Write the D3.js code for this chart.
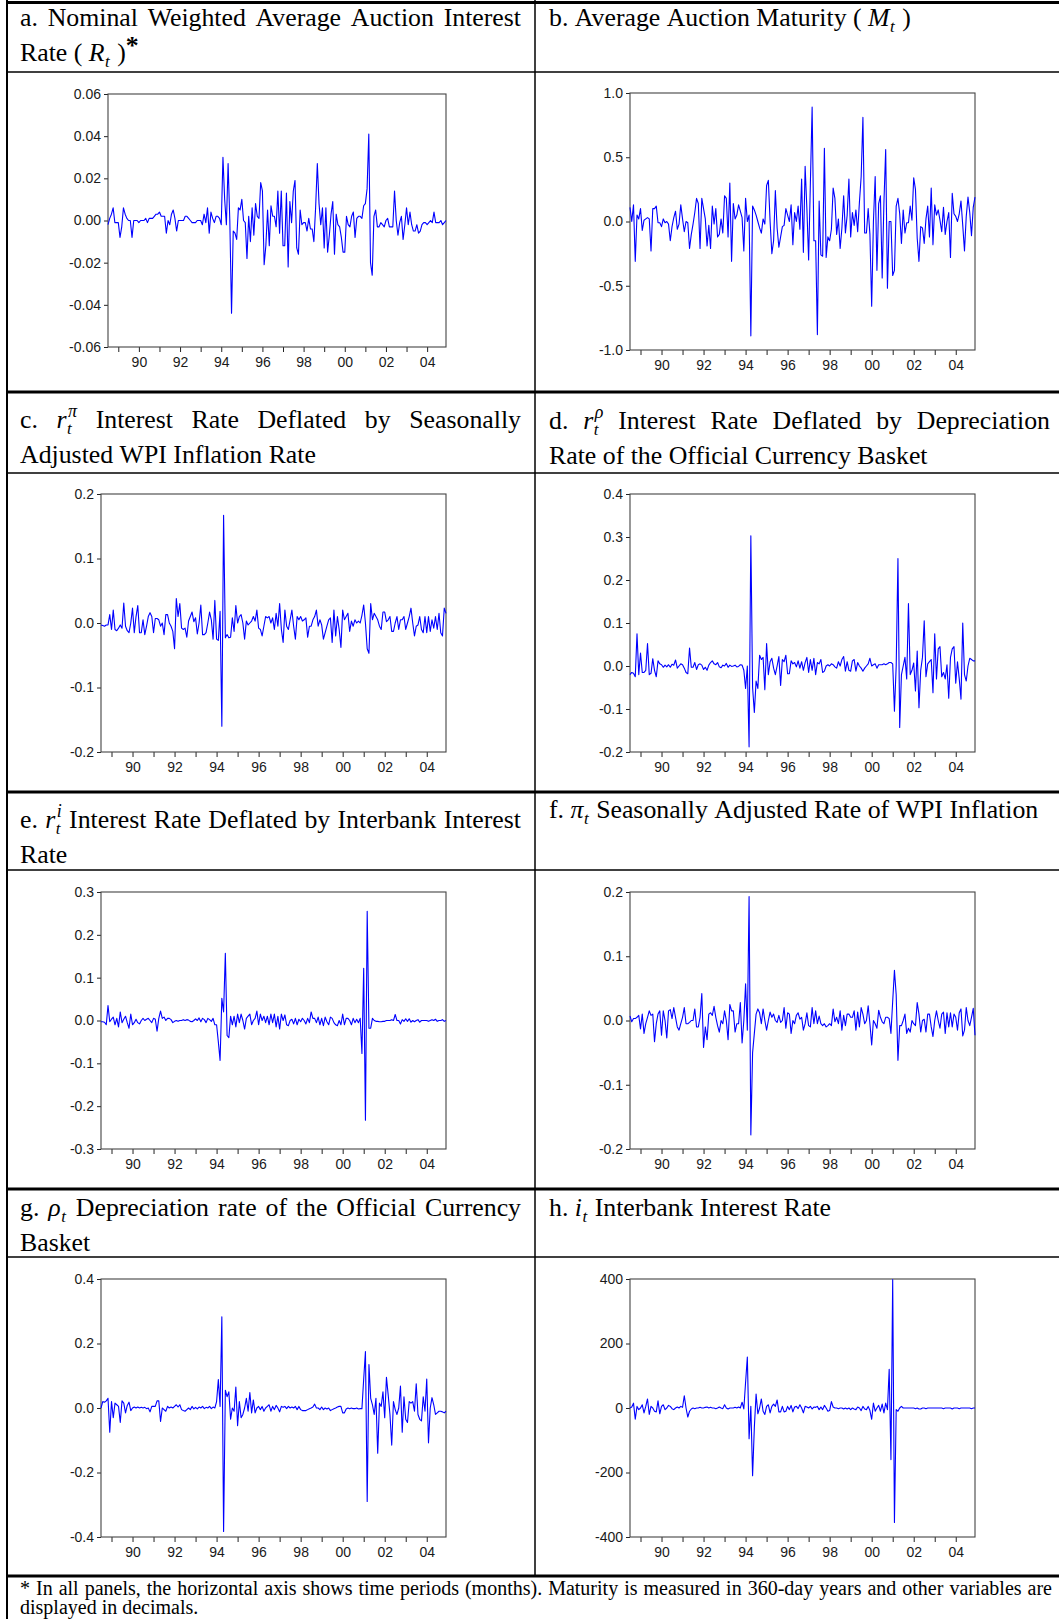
<!DOCTYPE html>
<html>
<head>
<meta charset="utf-8">
<script src="https://cdn.jsdelivr.net/npm/d3@7/dist/d3.min.js"></script>
<style>
html,body{margin:0;padding:0;background:#fff;}
svg{display:block;}
</style>
</head>
<body>
<svg id="fig" width="1059" height="1619"></svg>
<script>
// ---------------- time axis: monthly observations 1988:07 – 2004:12 ----------------
const startYear = 1988, startMonth = 7;
const xTickYears = [1989,1990,1991,1992,1993,1994,1995,1996,1997,1998,1999,2000,2001,2002,2003,2004];
const xLabelYears = [1990,1992,1994,1996,1998,2000,2002,2004];
const xLabels = ["90","92","94","96","98","00","02","04"];

// ---------------- y tick values ----------------
const ticksR = [-0.06,-0.04,-0.02,0,0.02,0.04,0.06];
const ticksM = [-1,-0.5,0,0.5,1];
const ticksRPi = [-0.2,-0.1,0,0.1,0.2];
const ticksRRho = [-0.2,-0.1,0,0.1,0.2,0.3,0.4];
const ticksRI = [-0.3,-0.2,-0.1,0,0.1,0.2,0.3];
const ticksPi = [-0.2,-0.1,0,0.1,0.2];
const ticksRho = [-0.4,-0.2,0,0.2,0.4];
const ticksI = [-400,-200,0,200,400];

// ---------------- series (one row per year) ----------------
const rateR = [
 -0.002,0.001,0.003,0.006,-0.001,-0.001,
 -0.001,-0.008,-0.003,0.006,0.003,0.001,0.000,0.000,-0.008,0.000,0.000,0.000,
 -0.001,0.000,0.000,0.000,0.001,-0.001,0.001,0.001,0.001,0.002,0.003,0.003,
 0.004,0.002,0.002,0.002,-0.006,0.000,-0.002,0.003,0.005,0.001,-0.005,0.000,
 0.000,0.000,0.000,0.002,0.002,0.001,0.000,-0.001,-0.001,-0.001,0.000,0.000,
 0.000,-0.002,0.003,-0.001,0.006,-0.006,0.004,0.001,-0.001,0.002,0.002,0.001,
 -0.002,0.030,0.010,-0.002,0.027,0.000,-0.044,-0.005,-0.006,-0.009,0.006,0.005,
 0.010,0.000,-0.001,-0.018,0.002,-0.010,0.006,-0.007,0.008,0.002,0.001,0.018,
 0.014,-0.021,-0.012,0.005,-0.012,0.007,0.002,0.002,-0.003,0.014,-0.006,0.014,
 -0.012,-0.012,0.013,-0.022,0.009,-0.001,0.014,0.019,-0.013,-0.016,0.005,-0.002,
 -0.001,-0.001,-0.005,0.001,-0.004,-0.004,-0.010,0.006,0.027,0.008,-0.002,0.006,
 -0.013,0.006,-0.015,-0.007,0.003,0.009,-0.016,0.003,-0.002,-0.003,-0.008,-0.015,
 -0.015,0.002,-0.002,-0.003,0.002,0.004,-0.008,0.001,0.002,0.002,0.001,0.007,
 0.008,0.015,0.041,-0.020,-0.026,0.002,0.005,-0.003,-0.003,-0.001,-0.002,-0.003,
 0.000,0.001,-0.003,-0.003,-0.003,0.014,0.000,-0.007,-0.001,0.002,-0.009,-0.002,
 0.006,-0.002,0.004,-0.002,-0.005,-0.005,-0.002,-0.006,-0.005,-0.002,-0.001,-0.001,
 -0.002,-0.001,0.000,-0.001,0.004,-0.001,-0.001,-0.001,0.000,-0.002,-0.001,0.000
];
const maturityM = [
 0.11,0.00,0.13,-0.31,0.05,0.02,
 0.10,-0.07,0.01,0.02,0.03,0.02,-0.23,0.10,0.10,0.12,-0.01,-0.01,
 -0.04,0.02,-0.01,0.00,-0.02,-0.15,-0.04,0.03,0.08,-0.06,-0.02,0.13,
 0.02,-0.08,0.00,-0.01,-0.21,-0.10,-0.02,0.07,0.18,0.14,-0.21,0.18,
 0.10,0.02,-0.19,-0.03,-0.21,0.12,-0.02,0.10,-0.12,-0.10,0.02,-0.09,
 0.20,0.18,-0.12,0.30,-0.31,0.14,0.02,0.05,0.13,0.08,0.03,-0.23,
 0.18,0.00,0.05,-0.89,0.12,0.09,0.05,0.00,-0.05,-0.09,0.02,-0.02,
 0.28,0.32,0.00,-0.25,-0.15,0.24,-0.05,-0.20,-0.12,-0.04,-0.03,0.10,
 0.05,0.00,0.13,-0.18,0.07,0.00,0.12,-0.06,0.33,-0.24,0.43,0.10,
 -0.30,0.30,0.89,-0.15,-0.15,-0.88,0.16,-0.26,-0.27,0.57,-0.28,-0.12,
 -0.15,-0.06,0.26,0.18,-0.10,0.02,-0.21,-0.05,0.20,-0.09,0.05,0.33,
 -0.12,0.07,-0.03,0.09,-0.08,0.15,0.35,0.81,-0.09,-0.09,0.10,-0.10,
 -0.66,0.00,0.35,-0.38,0.14,0.20,-0.44,0.15,0.56,-0.52,0.00,0.00,
 -0.42,-0.38,0.12,0.18,0.06,-0.17,0.09,-0.09,-0.01,-0.01,0.12,0.01,
 0.34,0.25,-0.13,-0.31,-0.04,-0.05,-0.17,0.02,0.12,-0.12,0.26,-0.18,
 0.13,0.05,0.09,0.01,-0.08,0.11,-0.10,0.00,0.07,-0.28,0.22,0.06,
 0.04,0.00,0.06,0.16,-0.03,-0.23,0.04,0.19,0.07,-0.11,0.11,0.19
];
const realRatePi = [
 -0.003,-0.004,-0.005,-0.003,-0.003,0.013,
 -0.010,0.020,-0.010,-0.012,-0.008,-0.003,-0.008,0.031,-0.005,-0.012,-0.015,0.000,
 0.023,-0.015,0.010,0.027,-0.015,-0.015,0.005,-0.018,-0.005,0.010,0.016,0.010,
 -0.015,0.007,0.007,0.005,-0.005,0.000,-0.018,0.013,0.013,0.000,-0.005,-0.013,
 -0.040,0.038,0.010,0.030,-0.008,-0.010,-0.008,-0.022,0.003,0.010,0.017,0.002,
 0.008,-0.017,0.000,0.028,-0.018,-0.018,-0.015,0.000,0.017,0.005,-0.025,0.035,
 -0.025,-0.027,0.018,-0.160,0.167,-0.023,-0.018,-0.023,-0.022,0.008,-0.013,0.027,
 0.000,0.010,0.013,0.000,-0.025,0.003,-0.003,0.000,0.003,0.010,0.003,0.020,
 -0.008,-0.010,-0.020,-0.005,0.010,0.008,0.010,0.000,0.008,-0.010,0.015,-0.005,
 0.030,-0.010,-0.030,0.020,-0.005,-0.010,0.005,0.020,-0.005,-0.025,0.010,0.005,
 0.010,0.003,0.005,0.008,-0.022,-0.005,-0.005,0.005,0.010,0.020,-0.005,0.005,
 -0.003,-0.025,-0.015,-0.005,0.005,0.008,-0.030,0.020,-0.020,0.010,-0.010,-0.038,
 0.020,0.005,0.010,0.015,-0.013,0.003,-0.005,0.005,0.000,0.003,0.000,0.012,
 0.028,0.000,-0.040,-0.047,0.030,0.005,0.015,0.010,0.005,-0.005,-0.010,0.017,
 0.017,0.002,0.005,0.010,-0.013,-0.013,0.000,0.010,-0.010,0.005,0.005,0.010,
 -0.010,0.000,0.010,0.023,0.000,-0.020,-0.005,-0.003,0.010,-0.010,-0.015,0.010,
 -0.015,0.010,-0.013,0.005,-0.008,0.010,-0.010,0.015,-0.015,-0.020,0.023,0.015
];
const realRateRho = [
 -0.020,-0.015,-0.017,-0.025,0.075,-0.020,
 0.030,-0.015,-0.015,-0.010,0.052,-0.020,-0.017,0.017,-0.010,-0.025,0.012,0.005,
 0.003,-0.003,0.002,-0.002,0.003,-0.003,0.004,0.002,0.014,-0.005,0.000,0.005,
 0.003,-0.005,-0.015,-0.018,0.042,-0.003,-0.003,0.008,-0.008,0.003,0.005,0.002,
 -0.008,-0.003,-0.010,0.002,0.008,0.012,0.005,0.003,0.008,-0.002,-0.004,0.002,
 0.000,0.006,-0.003,0.002,-0.001,0.000,0.002,-0.002,-0.001,0.003,0.002,-0.010,
 -0.052,0.000,-0.188,0.303,-0.050,-0.108,-0.035,-0.052,0.025,0.015,0.020,-0.055,
 0.052,-0.020,0.010,0.018,-0.005,-0.020,0.000,0.022,-0.045,0.015,0.010,0.025,
 -0.018,-0.018,0.012,0.005,0.008,-0.002,0.012,-0.005,0.010,-0.010,0.008,0.020,
 -0.015,0.015,-0.010,0.018,-0.020,0.008,0.005,0.015,-0.015,-0.012,0.000,0.003,
 0.000,0.005,0.003,-0.002,-0.005,0.010,0.000,0.015,0.022,-0.012,0.010,-0.010,
 -0.012,0.012,0.015,-0.012,0.008,0.000,-0.005,-0.012,-0.005,0.000,0.005,0.018,
 0.000,0.003,0.005,-0.005,0.003,0.003,0.003,0.005,0.003,0.005,0.008,0.008,
 0.005,-0.105,0.000,0.250,-0.143,-0.020,0.000,0.020,-0.030,0.145,-0.020,-0.010,
 0.007,-0.058,0.035,-0.097,-0.010,0.020,0.105,-0.025,0.005,0.010,0.015,-0.062,
 0.075,-0.030,0.040,0.045,-0.025,-0.015,-0.030,0.003,-0.075,0.020,0.040,0.045,
 -0.040,0.010,-0.030,-0.077,0.100,-0.020,-0.035,0.000,0.018,0.015,0.012,0.012
];
const realRateI = [
 -0.003,-0.003,-0.004,-0.010,0.035,-0.003,
 0.003,0.008,-0.010,0.005,-0.015,0.020,-0.005,0.003,0.010,-0.005,-0.018,0.015,
 -0.010,-0.005,0.003,-0.005,-0.008,0.000,0.005,0.000,0.003,0.005,0.000,-0.005,
 0.005,0.003,-0.025,0.005,0.022,0.005,0.008,0.000,0.005,0.005,0.002,-0.005,
 -0.002,0.000,-0.002,0.000,0.000,0.002,0.000,0.002,0.001,-0.002,-0.003,0.000,
 0.004,0.000,0.006,-0.003,0.005,0.002,-0.005,0.005,0.002,-0.002,0.005,-0.010,
 -0.010,-0.050,-0.093,0.052,0.020,0.157,-0.035,-0.040,0.010,-0.010,0.010,-0.015,
 0.015,-0.005,0.015,0.000,-0.020,0.005,0.010,0.015,-0.010,0.000,0.005,0.022,
 -0.010,0.015,0.000,0.010,-0.005,0.010,-0.010,0.015,-0.005,0.015,-0.015,0.010,
 -0.020,0.015,0.000,0.013,-0.010,-0.012,0.000,0.003,-0.008,0.005,-0.010,0.003,
 -0.003,0.005,0.000,-0.008,0.005,-0.005,0.020,0.005,0.005,-0.005,0.008,-0.010,
 0.005,-0.012,0.008,-0.003,-0.010,0.008,0.005,-0.005,-0.010,-0.012,0.000,-0.010,
 0.015,-0.010,0.005,0.005,0.000,-0.010,0.005,-0.005,0.003,-0.005,0.005,-0.077,
 0.122,-0.233,0.255,-0.018,-0.018,0.005,0.000,-0.002,-0.002,-0.003,-0.003,-0.002,
 -0.002,0.000,0.000,0.000,0.002,0.000,0.014,0.000,0.000,-0.008,0.002,-0.002,
 0.004,-0.002,0.004,-0.004,0.000,-0.003,0.000,0.002,-0.004,0.000,0.000,0.000,
 0.000,-0.002,0.000,0.002,0.000,0.003,-0.002,0.000,0.000,0.002,-0.002,0.000
];
const inflationPi = [
 0.007,-0.002,0.003,0.003,0.005,0.008,
 -0.013,0.010,-0.020,-0.005,0.005,0.015,0.008,0.010,-0.033,-0.005,0.010,0.015,
 -0.023,0.015,0.000,-0.027,0.015,0.017,0.003,0.020,0.005,-0.010,-0.015,-0.005,
 0.005,0.020,-0.005,-0.005,-0.003,0.000,0.000,0.018,-0.010,-0.010,0.005,0.042,
 -0.042,-0.010,-0.030,0.010,0.012,0.008,0.022,0.005,-0.008,-0.018,0.000,-0.005,
 0.015,0.000,-0.030,0.025,0.015,0.015,-0.018,-0.005,-0.005,0.028,-0.035,0.000,
 0.057,-0.015,0.193,-0.178,-0.050,-0.020,0.010,0.018,0.012,-0.005,0.018,0.000,
 -0.015,0.000,0.013,0.005,0.010,0.000,-0.003,0.008,-0.003,0.000,0.020,-0.012,
 0.012,0.010,-0.020,0.000,-0.005,0.008,0.012,0.002,0.005,-0.015,-0.005,0.012,
 -0.008,-0.010,0.020,-0.005,0.015,-0.005,0.007,-0.005,-0.008,-0.005,-0.010,-0.008,
 -0.005,-0.008,0.018,-0.002,0.005,-0.005,0.015,-0.015,0.008,-0.008,0.010,0.010,
 0.005,0.005,0.015,-0.015,0.013,-0.010,0.020,0.010,-0.005,0.000,0.023,-0.005,
 -0.038,0.000,-0.005,-0.012,0.016,0.005,-0.002,-0.005,0.005,0.005,0.003,-0.020,
 0.030,0.078,0.040,-0.062,-0.008,-0.008,0.000,0.010,-0.020,-0.012,-0.018,0.000,
 -0.005,-0.008,0.028,0.010,-0.018,0.000,0.002,-0.018,0.010,0.010,-0.010,-0.025,
 0.000,0.015,0.000,-0.012,0.010,0.013,-0.020,0.012,-0.010,0.012,-0.010,0.010,
 0.005,-0.015,0.012,0.018,-0.024,-0.015,0.020,0.000,-0.008,0.005,0.019,-0.023
];
const deprRho = [
 0.000,0.020,0.018,0.022,0.030,-0.075,
 0.020,-0.030,0.015,0.010,0.005,-0.045,0.022,0.015,-0.015,0.008,0.018,-0.008,
 0.000,0.003,0.000,0.003,0.000,0.002,0.000,0.002,-0.002,0.000,-0.012,0.005,
 0.005,0.005,0.022,0.022,-0.042,0.000,-0.005,-0.010,0.005,0.000,0.003,0.000,
 0.005,0.010,0.003,0.010,-0.005,-0.008,-0.010,-0.005,0.000,-0.005,0.005,-0.003,
 0.002,-0.003,0.003,0.000,0.005,-0.002,0.002,0.000,0.005,-0.002,0.003,0.000,
 0.020,0.088,0.005,0.283,-0.383,0.055,0.035,0.050,-0.035,0.000,-0.010,0.065,
 -0.055,0.020,-0.030,-0.020,0.000,0.030,-0.010,0.048,-0.015,0.025,-0.015,0.000,
 0.005,-0.005,0.005,-0.010,0.000,0.005,0.010,-0.010,0.005,-0.005,0.008,0.000,
 -0.012,0.005,0.002,0.005,-0.002,0.005,0.000,0.003,0.000,0.005,-0.005,0.005,
 -0.005,-0.008,-0.008,-0.008,-0.005,-0.002,0.000,0.003,0.012,0.000,0.000,-0.005,
 0.003,-0.005,0.000,-0.003,0.000,-0.008,-0.005,-0.002,0.000,0.003,0.005,0.005,
 -0.015,-0.015,-0.003,0.000,-0.002,0.000,-0.002,-0.002,0.000,-0.003,-0.002,-0.002,
 0.090,0.175,-0.290,0.135,0.030,0.010,-0.020,0.030,-0.140,0.015,0.005,0.050,
 -0.030,0.095,0.040,-0.020,-0.115,0.020,-0.005,-0.020,0.000,0.068,-0.075,0.035,
 -0.035,-0.045,0.020,0.015,0.020,-0.010,0.075,-0.020,-0.035,-0.040,0.035,-0.010,
 0.090,-0.108,0.000,0.032,0.010,-0.020,-0.015,-0.010,-0.010,-0.012,-0.015,-0.010
];
const interbankI = [
 0,3,15,-35,5,-5,
 0,10,-15,5,28,-20,5,0,-10,-12,22,-18,
 5,10,-5,0,8,5,-2,-5,0,3,0,5,
 2,38,0,-28,-10,-3,0,-2,0,0,2,0,
 0,2,3,0,2,0,0,-2,0,3,0,-2,
 10,0,-3,0,0,0,2,0,3,0,18,-3,
 80,158,-95,5,-210,-60,43,-18,0,28,-10,-20,
 5,10,-15,5,12,5,25,-12,-12,5,-12,-10,
 5,-5,8,-12,3,5,-2,10,0,-15,5,3,
 0,5,-3,3,2,5,-5,3,-5,8,0,-10,
 -8,20,3,0,0,-2,0,0,-3,0,-3,0,
 -5,0,-3,-5,3,0,-8,5,-3,-5,5,-8,
 -35,15,-10,0,8,-10,12,-15,15,-5,120,-160,
 398,-355,-5,-10,0,5,0,0,0,0,0,0,
 0,-2,0,-3,-3,0,0,-2,0,0,0,0,
 0,0,0,0,0,-2,0,0,0,0,-3,0,
 0,0,-2,0,0,0,0,0,0,-2,0,0
];

// ---------------- panel titles ----------------
const titleA = [["a.","Nominal","Weighted","Average","Auction","Interest"],
                ["Rate","(",[{t:"R",i:1},{sub:"t"}],[{t:")"},{t:"*",b:1,dy:-7}]]];
const titleB = [["b.","Average","Auction","Maturity","(",[{t:"M",i:1},{sub:"t"}],")"]];
const titleC = [["c.",[{t:"r",i:1},{sub:"t",sup:"π"}],"Interest","Rate","Deflated","by","Seasonally"],
                ["Adjusted","WPI","Inflation","Rate"]];
const titleD = [["d.",[{t:"r",i:1},{sub:"t",sup:"ρ"}],"Interest","Rate","Deflated","by","Depreciation"],
                ["Rate","of","the","Official","Currency","Basket"]];
const titleE = [["e.",[{t:"r",i:1},{sub:"t",sup:"i"}],"Interest","Rate","Deflated","by","Interbank","Interest"],
                ["Rate"]];
const titleF = [["f.",[{t:"π",i:1},{sub:"t"}],"Seasonally","Adjusted","Rate","of","WPI","Inflation"]];
const titleG = [["g.",[{t:"ρ",i:1},{sub:"t"}],"Depreciation","rate","of","the","Official","Currency"],
                ["Basket"]];
const titleH = [["h.",[{t:"i",i:1},{sub:"t"}],"Interbank","Interest","Rate"]];
const footnote = [
 "* In all panels, the horizontal axis shows time periods (months). Maturity is measured in 360-day years and other variables are",
 "displayed in decimals."
];

// ======================= drawing =======================
const svg = d3.select("#fig");
const SERIF = "'Liberation Serif','Times New Roman',serif";
const SANS = "'Liberation Sans',Arial,sans-serif";
const TFS = 25.8, SUB = 17, SUP = 18, FFS = 20;

const meas = svg.append("text").attr("x",-2000).attr("y",-2000).attr("xml:space","preserve");
function tw(str,size,it,b){
  meas.attr("font-family",SERIF).attr("font-size",size)
      .attr("font-style",it?"italic":"normal").attr("font-weight",b?"bold":"normal").text(str);
  return meas.node().getComputedTextLength();
}
function spaceW(size){ return tw("x x",size,false,false)-tw("xx",size,false,false); }
function styleT(sel,size,it,b){
  sel.attr("font-family",SERIF).attr("font-size",size)
     .attr("font-style",it?"italic":"normal").attr("font-weight",b?"bold":"normal").attr("fill","#000");
}
function segW(s,size){
  if(s.sub!==undefined){
    let w=tw(s.sub,SUB,true,false);
    if(s.sup) w=Math.max(w,tw(s.sup,SUP,true,false));
    return w+1.5;
  }
  return tw(s.t,s.size||size,s.i,s.b);
}
function drawSeg(g,s,x,y,size){
  if(s.sub!==undefined){
    g.append("text").attr("x",x+0.5).attr("y",y+6).call(styleT,SUB,true,false).text(s.sub);
    if(s.sup) g.append("text").attr("x",x+1.5).attr("y",y-11).call(styleT,SUP,true,false).text(s.sup);
  } else {
    g.append("text").attr("x",x).attr("y",y+(s.dy||0)).call(styleT,s.size||size,s.i,s.b).text(s.t);
  }
}
function drawRich(g,words,x0,x1,y,justify,size){
  const ws = words.map(w=> typeof w==="string" ? [{t:w}] : w);
  const widths = ws.map(w=>d3.sum(w,s=>segW(s,size)));
  const total = d3.sum(widths);
  const gap = (justify && ws.length>1) ? (x1-x0-total)/(ws.length-1) : spaceW(size);
  let x=x0;
  ws.forEach((w,k)=>{
    let xx=x;
    w.forEach(s=>{ drawSeg(g,s,xx,y,size); xx+=segW(s,size); });
    x+=widths[k]+gap;
  });
}
function drawTitle(lines,x0,x1,y0,lh){
  const g=svg.append("g");
  lines.forEach((ln,k)=>{
    const justify = lines.length>1 && k<lines.length-1;
    drawRich(g,ln,x0,x1,y0+k*lh,justify,TFS);
  });
}

// table rules
const rules = svg.append("g").attr("stroke","#000");
const hRules = [[2.5,3],[72,1.5],[392,3],[473,1.5],[792,3],[870,1.5],[1189,3],[1257,1.5],[1576,3]];
hRules.forEach(([y,w])=>rules.append("line").attr("x1",6).attr("x2",1059).attr("y1",y).attr("y2",y).attr("stroke-width",w));
rules.append("line").attr("x1",7).attr("x2",7).attr("y1",0).attr("y2",1619).attr("stroke-width",2);
rules.append("line").attr("x1",535).attr("x2",535).attr("y1",0).attr("y2",1576).attr("stroke-width",1.5);

// titles
const LX0=20, LX1=521, RX0=549, RX1=1050, LH=35;
drawTitle(titleA,LX0,LX1,26,LH);
drawTitle(titleB,RX0,RX1,26,LH);
drawTitle(titleC,LX0,LX1,428,LH);
drawTitle(titleD,RX0,RX1,429,LH);
drawTitle(titleE,LX0,LX1,828,LH);
drawTitle(titleF,RX0,RX1,818,LH);
drawTitle(titleG,LX0,LX1,1216,LH);
drawTitle(titleH,RX0,RX1,1216,LH);

// footnote
{
  const g=svg.append("g");
  drawRich(g,footnote[0].split(" "),20,1052,1595,true,FFS);
  drawRich(g,footnote[1].split(" "),20,1052,1614,false,FFS);
}

// panels
const panels = [
  {values:rateR,       ticks:ticksR,    fmt:".2f", box:[108,446,94,347]},
  {values:maturityM,   ticks:ticksM,    fmt:".1f", box:[630,975,93,350]},
  {values:realRatePi,  ticks:ticksRPi,  fmt:".1f", box:[101,446,494,752]},
  {values:realRateRho, ticks:ticksRRho, fmt:".1f", box:[630,975,494,752]},
  {values:realRateI,   ticks:ticksRI,   fmt:".1f", box:[101,446,892,1149]},
  {values:inflationPi, ticks:ticksPi,   fmt:".1f", box:[630,975,892,1149]},
  {values:deprRho,     ticks:ticksRho,  fmt:".1f", box:[101,446,1279,1537]},
  {values:interbankI,  ticks:ticksI,    fmt:"d",   box:[630,975,1279,1537]}
];
const t0 = startYear + (startMonth-1)/12;
panels.forEach(p=>{
  const [l,r,t,b]=p.box;
  const n=p.values.length;
  const x=d3.scaleLinear().domain([t0, t0+(n-1)/12]).range([l,r]);
  const y=d3.scaleLinear().domain(d3.extent(p.ticks)).range([b,t]);
  const g=svg.append("g");
  const f=d3.format(p.fmt);
  const yAx=d3.axisLeft(y).tickValues(p.ticks).tickSize(4).tickPadding(3)
              .tickFormat(d=>f(d).replace("\u2212","-"));
  const gy=g.append("g").attr("transform",`translate(${l},0)`).call(yAx);
  const xAx=d3.axisBottom(x).tickValues(xTickYears).tickSize(5).tickPadding(5)
              .tickFormat(d=>{const k=xLabelYears.indexOf(d); return k>=0?xLabels[k]:"";});
  const gx=g.append("g").attr("transform",`translate(0,${b})`).call(xAx);
  [gx,gy].forEach(a=>{
    a.select(".domain").remove();
    a.selectAll("line").attr("stroke","#222").attr("stroke-width",1);
    a.selectAll("text").attr("font-family",SANS).attr("font-size",14).attr("fill","#1a1a1a");
  });
  g.append("rect").attr("x",l).attr("y",t).attr("width",r-l).attr("height",b-t)
   .attr("fill","none").attr("stroke","#444").attr("stroke-width",1.1);
  const line=d3.line().x((d,i)=>x(t0+i/12)).y(d=>y(d));
  g.append("path").datum(p.values).attr("d",line)
   .attr("fill","none").attr("stroke","#0000ff").attr("stroke-width",1.1).attr("stroke-linejoin","round");
});
meas.remove();
</script>
</body>
</html>
